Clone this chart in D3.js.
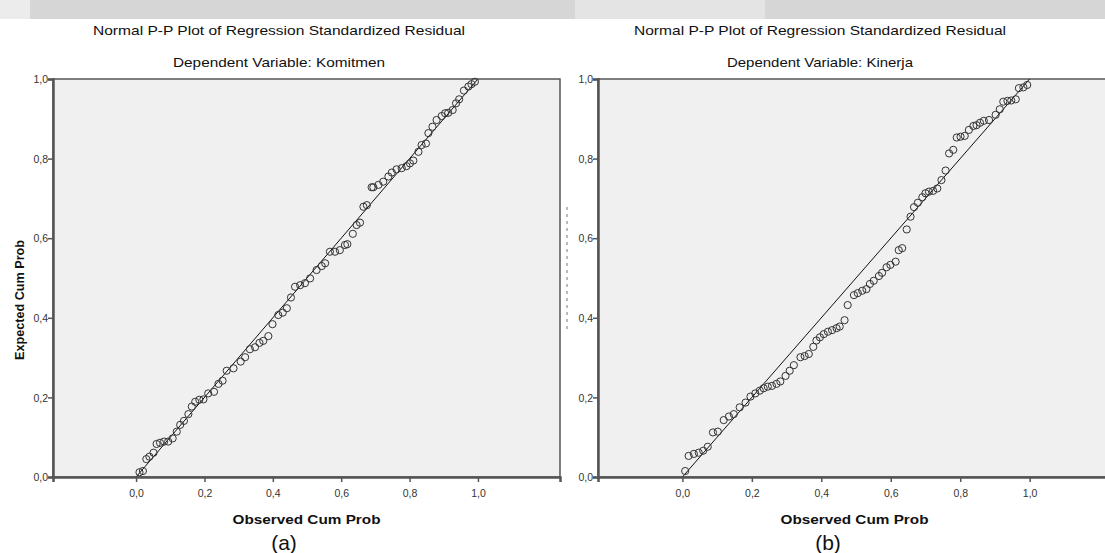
<!DOCTYPE html>
<html lang="en">
<head>
<meta charset="utf-8">
<title>Normal P-P Plot</title>
<script src="https://d3js.org/d3.v7.min.js"></script>
<style>
  body { margin: 0; background: #fff; }
  text { font-family: "Liberation Sans", Arial, sans-serif; }
</style>
</head>
<body>
<div id="chart"></div>
<script>
// ---- data: [observed cum prob, expected cum prob]
var komitmenPoints = [
  [0.010,0.012],[0.020,0.015],[0.030,0.045],[0.039,0.051],[0.051,0.061],[0.060,0.083],
  [0.070,0.086],[0.082,0.089],[0.094,0.089],[0.107,0.097],[0.119,0.114],[0.129,0.131],
  [0.140,0.141],[0.153,0.158],[0.163,0.177],[0.173,0.189],[0.185,0.194],[0.197,0.195],
  [0.211,0.210],[0.228,0.214],[0.241,0.234],[0.253,0.242],[0.265,0.267],[0.285,0.273],
  [0.306,0.290],[0.319,0.301],[0.333,0.321],[0.348,0.326],[0.361,0.337],[0.372,0.342],
  [0.387,0.354],[0.399,0.384],[0.416,0.407],[0.429,0.413],[0.441,0.424],[0.453,0.451],
  [0.465,0.478],[0.480,0.482],[0.494,0.487],[0.509,0.499],[0.528,0.520],[0.543,0.530],
  [0.553,0.537],[0.567,0.566],[0.582,0.566],[0.596,0.570],[0.611,0.583],[0.618,0.585],
  [0.634,0.611],[0.645,0.633],[0.655,0.639],[0.665,0.679],[0.675,0.683],[0.689,0.728],
  [0.694,0.728],[0.709,0.734],[0.723,0.742],[0.738,0.755],[0.748,0.765],[0.762,0.773],
  [0.777,0.776],[0.791,0.781],[0.801,0.788],[0.811,0.795],[0.826,0.817],[0.835,0.834],
  [0.848,0.838],[0.855,0.864],[0.867,0.880],[0.879,0.897],[0.894,0.907],[0.904,0.914],
  [0.913,0.915],[0.926,0.922],[0.936,0.939],[0.945,0.949],[0.959,0.971],[0.972,0.981],
  [0.981,0.987],[0.991,0.993]
];
var kinerjaPoints = [
  [0.008,0.015],[0.018,0.053],[0.033,0.058],[0.047,0.061],[0.060,0.066],[0.073,0.076],
  [0.088,0.112],[0.102,0.114],[0.119,0.143],[0.134,0.152],[0.148,0.158],[0.165,0.175],
  [0.182,0.187],[0.196,0.202],[0.210,0.210],[0.223,0.217],[0.234,0.223],[0.246,0.227],
  [0.258,0.229],[0.271,0.234],[0.282,0.240],[0.297,0.254],[0.309,0.267],[0.321,0.281],
  [0.340,0.301],[0.352,0.304],[0.364,0.309],[0.377,0.327],[0.386,0.343],[0.396,0.351],
  [0.407,0.359],[0.419,0.365],[0.431,0.369],[0.444,0.374],[0.453,0.378],[0.467,0.394],
  [0.476,0.432],[0.494,0.457],[0.505,0.462],[0.518,0.468],[0.530,0.472],[0.540,0.485],
  [0.551,0.493],[0.566,0.505],[0.575,0.513],[0.588,0.527],[0.599,0.533],[0.614,0.541],
  [0.623,0.570],[0.633,0.575],[0.646,0.622],[0.657,0.654],[0.667,0.678],[0.678,0.689],
  [0.691,0.703],[0.700,0.713],[0.710,0.717],[0.722,0.719],[0.734,0.725],[0.746,0.746],
  [0.758,0.770],[0.768,0.813],[0.780,0.822],[0.790,0.853],[0.801,0.855],[0.813,0.857],
  [0.825,0.872],[0.838,0.882],[0.847,0.884],[0.857,0.890],[0.868,0.895],[0.883,0.897],
  [0.902,0.910],[0.914,0.924],[0.924,0.943],[0.936,0.945],[0.947,0.946],[0.960,0.949],
  [0.969,0.977],[0.982,0.979],[0.993,0.985]
];
var tickValues = [0, 0.2, 0.4, 0.6, 0.8, 1.0];
var tickLabels = ["0,0", "0,2", "0,4", "0,6", "0,8", "1,0"];
var mainTitle = "Normal P-P Plot of Regression Standardized Residual";
var subTitles = ["Dependent Variable: Komitmen", "Dependent Variable: Kinerja"];
var captions = ["(a)", "(b)"];

var W = 1105, H = 553;
var svg = d3.select("#chart").append("svg")
    .attr("width", W).attr("height", H);

// grey band left over from the page watermark
svg.append("rect").attr("x", 0).attr("y", 0).attr("width", W).attr("height", 19)
    .attr("fill", "#d6d6d6");
svg.append("rect").attr("x", 0).attr("y", 0).attr("width", 30).attr("height", 19)
    .attr("fill", "#ececec");
svg.append("rect").attr("x", 575).attr("y", 0).attr("width", 190).attr("height", 19)
    .attr("fill", "#e4e4e4");

function drawPlot(opt) {
    var x = d3.scaleLinear().domain([-0.243, 1.24]).range([opt.left, opt.right]);
    var y = d3.scaleLinear().domain([0, 1]).range([477, 79]);
    var g = svg.append("g");

    g.append("rect")
        .attr("x", opt.left).attr("y", y(1))
        .attr("width", opt.right - opt.left).attr("height", y(0) - y(1))
        .attr("fill", "#f0f0f0").attr("stroke", "#555").attr("stroke-width", 1.5);

    // diagonal reference line
    g.append("line")
        .attr("x1", x(0)).attr("y1", y(0)).attr("x2", x(1)).attr("y2", y(1))
        .attr("stroke", "#111").attr("stroke-width", 1);

    g.selectAll("circle").data(opt.points).enter().append("circle")
        .attr("cx", d => x(d[0])).attr("cy", d => y(d[1]))
        .attr("r", 3.6).attr("fill", "none")
        .attr("stroke", "#333").attr("stroke-width", 1);

    // axes
    var yAxis = d3.axisLeft(y).tickValues(tickValues).tickSize(5)
        .tickFormat((d, i) => tickLabels[i]);
    var xAxis = d3.axisBottom(x).tickValues(tickValues).tickSize(5)
        .tickFormat((d, i) => tickLabels[i]);

    var ya = g.append("g").attr("transform", "translate(" + opt.left + ",0)").call(yAxis);
    var xa = g.append("g").attr("transform", "translate(0," + y(0) + ")").call(xAxis);
    [ya, xa].forEach(function(a) {
        a.select(".domain").attr("stroke", "#555").attr("stroke-width", 2.5);
        a.selectAll(".tick line").attr("stroke", "#555").attr("stroke-width", 1.5);
        a.selectAll(".tick text").attr("font-size", 10.5).attr("fill", "#333")
            .attr("font-family", "Liberation Sans, Arial, sans-serif");
    });
    ya.selectAll(".tick text").attr("x", -5).attr("dy", "0.35em");
    xa.selectAll(".tick text").attr("y", 13);

    // titles
    g.append("text").attr("x", opt.titleX).attr("y", 35).attr("text-anchor", "middle")
        .attr("font-size", 13).attr("fill", "#111")
        .attr("textLength", 372).attr("lengthAdjust", "spacingAndGlyphs")
        .text(mainTitle);
    g.append("text").attr("x", opt.titleX).attr("y", 67).attr("text-anchor", "middle")
        .attr("font-size", 13).attr("fill", "#111")
        .attr("textLength", opt.subLen).attr("lengthAdjust", "spacingAndGlyphs")
        .text(opt.sub);

    g.append("text")
        .attr("x", (opt.left + Math.min(opt.right, W)) / 2 + opt.xLabelShift).attr("y", 524)
        .attr("text-anchor", "middle").attr("font-size", 12).attr("font-weight", "bold")
        .attr("fill", "#111").attr("textLength", 148).attr("lengthAdjust", "spacingAndGlyphs")
        .text("Observed Cum Prob");

    g.append("text").attr("x", opt.capX).attr("y", 550).attr("text-anchor", "middle")
        .attr("font-size", 21).attr("fill", "#111").text(opt.caption);
}

drawPlot({ left: 53, right: 560, points: komitmenPoints, titleX: 279, sub: subTitles[0],
           subLen: 212, caption: captions[0], capX: 284, xLabelShift: 0 });
drawPlot({ left: 598, right: 1113, points: kinerjaPoints, titleX: 820, sub: subTitles[1],
           subLen: 186, caption: captions[1], capX: 828, xLabelShift: 3 });

// y axis label of the left plot
svg.append("text")
    .attr("transform", "translate(24,300) rotate(-90)")
    .attr("text-anchor", "middle").attr("font-size", 12).attr("font-weight", "bold")
    .attr("fill", "#111").attr("textLength", 120).attr("lengthAdjust", "spacingAndGlyphs")
    .text("Expected Cum Prob");

// remnant of the hidden label on the right plot
svg.append("line").attr("x1", 567).attr("y1", 207).attr("x2", 567).attr("y2", 333)
    .attr("stroke", "#777").attr("stroke-width", 1).attr("stroke-dasharray", "3,4");
</script>
</body>
</html>
